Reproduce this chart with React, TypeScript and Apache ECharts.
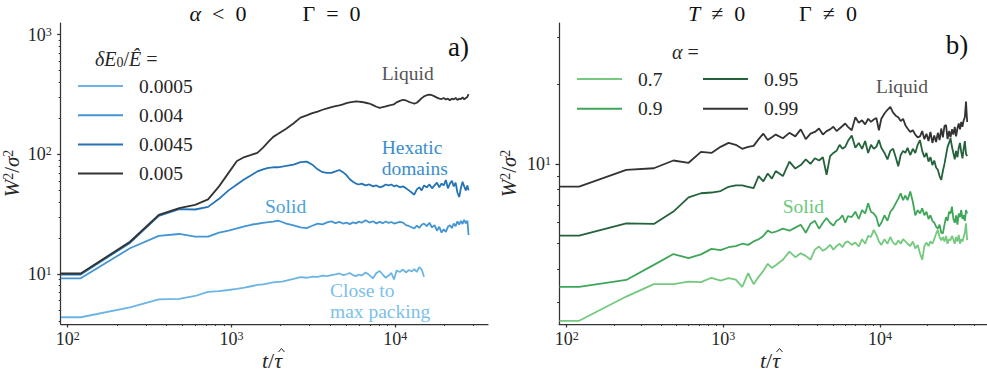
import React, { useEffect, useRef } from 'react';
import * as echarts from 'echarts';

const FONT = 'Liberation Serif';
const INK = '#262626';

// ---------------- data ----------------
const T_LEFT = [91, 120, 240, 360, 480, 600, 720, 840, 960, 1080,
  1200, 1320, 1440, 1560, 1680, 1800, 1920, 2040, 2160,
  2400, 2640, 2880, 3120, 3360, 3600, 3840, 4080, 4320, 4560, 4800, 5040, 5280, 5520, 5760, 6000, 6240,
  6600, 6960, 7320, 7680, 8040, 8400, 8760, 9120, 9480, 9840, 10200,
  10680, 11160, 11640, 12120, 12600, 13080, 13560, 14040, 14520, 15000,
  15600, 16200, 16800, 17400, 18000, 18600, 19200, 19800, 20400, 21000, 21600, 22200, 22800, 23400, 24000, 24600, 25200, 25800, 26400, 27000, 27600,
  28080];

const T_RIGHT = [90, 120, 240, 360, 480, 600, 720, 840, 960, 1080,
  1200, 1320, 1440, 1560, 1680, 1800, 1920, 2040, 2160,
  2400, 2640, 2880, 3120, 3360, 3600, 3840, 4080, 4320, 4560, 4800, 5040, 5280, 5520, 5760, 6000, 6240,
  6600, 6960, 7320, 7680, 8040, 8400, 8760, 9120, 9480, 9840, 10200,
  10680, 11160, 11640, 12120, 12600, 13080, 13560, 14040, 14520, 15000,
  15600, 16200, 16800, 17400, 18000, 18600, 19200, 19800, 20400, 21000, 21600, 22200, 22800, 23400, 24000, 24600, 25200, 25800, 26400, 27000, 27600,
  28200, 28800, 29400, 30000, 30600, 31200, 31800, 32400, 33000, 33600, 34200, 34800, 35400, 36000];

// panel a) : dE0/E = 0.0005 (close to max packing)
const W_A_0005 = [4.35, 4.35, 5.26, 6.14, 6.2, 6.55, 7.1, 7.2, 7.35, 7.5,
  7.7, 7.9, 8.1, 8.2, 8.35, 8.5, 8.6, 8.65, 8.8,
  9.1, 9.4, 9.3, 9.5, 9.45, 9.7, 9.6, 9.8, 9.95, 10.1, 9.8, 9.95, 10.2, 9.8, 9.6, 9.9, 9.7,
  10.3, 9.8, 9.2, 10.2, 10.6, 9.9, 9.3, 9.7, 10.2, 9.0, 10.7,
  10.4, 10.9, 10.3, 10.8, 10.5, 11.0, 10.4, 11.4, 10.9, 9.5];
// 0.004 (solid)
const W_A_004 = [9.2, 9.2, 16.4, 20.8, 21.6, 20.5, 20.5, 22.2, 23, 24.1,
  25, 25.8, 26.3, 26.8, 27.1, 27.4, 27.9, 27.2, 26.4,
  25.5, 24.5, 24.2, 25.3, 26.4, 26.0, 27.0, 27.5, 26.6, 27.3, 26.4, 26.9, 26.1, 27.0, 26.5, 27.4, 26.8,
  28.2, 26.9, 27.6, 26.5, 27.3, 26.6, 27.5, 26.7, 27.2, 26.4, 26.8,
  27.3, 26.9, 25.6, 25.2, 24.6, 24.0, 25.4, 24.3, 25.8, 26.4,
  25.1, 26.8, 24.5, 25.6, 23.0, 24.8, 22.2, 23.6, 22.5, 24.8, 25.6, 24.2, 26.4, 25.1, 27.5, 25.9, 27.8, 26.2, 28.3, 26.5, 27.9,
  21.2];
// 0.0045 (hexatic domains)
const W_A_0045 = [9.9, 9.9, 18.2, 30.6, 34.8, 34.6, 36.4, 42.5, 50, 56,
  62, 67, 72, 75, 77, 78, 78, 79, 80,
  82, 86, 87, 82, 75, 71, 70, 70, 72, 74, 71, 67, 62, 59, 57, 56, 57,
  55, 56, 54, 55, 53, 54, 56, 55, 56, 54, 55,
  53, 54, 52, 50, 48, 46, 51, 53, 50, 55,
  53, 56, 52, 55, 58, 53, 57, 55, 61, 52, 57, 60, 54, 58, 48, 44, 52, 59, 54, 50, 55,
  50];
// 0.005 (liquid)
const W_A_005 = [10.1, 10.1, 18.6, 31.2, 35.5, 37.8, 42, 54, 70, 88,
  95, 99, 103, 114, 127, 140, 148, 156, 164,
  182, 203, 212, 221, 228, 236, 242, 248, 253, 257, 262, 268, 272, 275, 277, 276, 274,
  270, 266, 258, 250, 245, 248, 252, 256, 259, 262, 272,
  280, 286, 282, 275, 270, 266, 270, 282, 295, 305,
  312, 316, 312, 305, 298, 292, 290, 296, 288, 292, 283, 292, 288, 296, 285, 292, 290, 300, 288, 296, 302,
  318];

// panel b) : alpha = 0.7
const W_B_07 = [2.56, 2.56, 3.16, 3.52, 3.52, 3.6, 3.58, 3.72, 3.63, 3.71,
  3.66, 3.44, 3.87, 3.52, 3.75, 3.95, 4.2, 4.05, 4.15,
  4.35, 4.67, 4.45, 4.6, 4.5, 4.35, 4.75, 4.88, 4.7, 4.8, 4.95, 4.75, 4.9, 5.0, 4.85, 5.05, 5.1,
  4.95, 5.05, 4.88, 5.2, 5.0, 5.35, 5.3, 5.64, 5.4, 5.1, 4.95,
  5.2, 5.0, 5.3, 5.05, 4.95, 5.15, 5.0, 5.2, 5.1, 5.0,
  4.9, 5.1, 4.8, 4.95, 4.6, 4.35, 4.9, 5.05, 4.9, 5.1, 5.0, 5.2, 5.45, 5.64, 5.3, 5.15, 5.3, 5.1, 5.35, 5.0, 5.2,
  5.15, 5.35, 5.2, 5.0, 5.3, 5.1, 5.4, 5.0, 5.2, 5.1, 5.3, 5.5, 5.97, 5.16];
// alpha = 0.9
const W_B_09 = [3.44, 3.44, 3.65, 4.16, 4.57, 4.41, 4.56, 4.78, 4.73, 4.85,
  4.9, 5.0, 4.95, 5.1, 5.2, 5.35, 5.6, 5.5, 5.55,
  5.7, 5.6, 5.75, 5.9, 5.5, 5.95, 6.1, 5.7, 6.0, 6.25, 6.0, 5.85, 6.1, 6.2, 6.4, 6.0, 6.35,
  6.3, 6.6, 6.2, 6.7, 6.5, 7.1, 6.6, 6.5, 6.3, 5.8, 6.0,
  6.4, 6.1, 6.6, 6.8, 7.1, 7.4, 7.75, 7.3, 7.6, 7.3,
  7.87, 7.2, 6.4, 6.7, 6.5, 6.8, 6.4, 6.6, 6.2, 6.4, 6.1, 6.0, 5.8, 5.7, 5.9, 5.5, 5.47, 5.9, 6.3, 6.1, 6.6,
  6.5, 6.9, 6.2, 6.0, 6.4, 5.9, 6.5, 6.3, 6.7, 6.2, 6.4, 6.1, 6.7, 6.5];
// alpha = 0.95
const W_B_095 = [5.36, 5.36, 5.97, 5.94, 6.61, 7.48, 7.75, 7.8, 7.9, 8.2,
  8.3, 8.3, 8.2, 8.1, 9.0, 8.6, 9.2, 8.8, 9.4,
  9.0, 10.2, 9.6, 9.9, 10.4, 10.0, 10.5, 10.3, 10.6, 9.1, 10.7, 11.0, 11.2, 11.8, 11.4, 11.6, 12.2,
  12.8, 11.5, 12.0, 11.4, 12.2, 11.0, 11.8, 11.4, 11.6, 12.3, 11.5,
  11.0, 10.4, 11.2, 11.4, 10.6, 9.8, 10.8, 11.2, 11.0, 11.5,
  10.8, 11.4, 11.0, 11.8, 12.3, 11.2, 10.6, 11.0, 10.2, 10.6, 9.9, 10.3, 9.7, 9.5, 9.0, 8.7, 9.4, 10.0, 10.8, 11.6, 12.0,
  12.5, 11.6, 11.0, 10.4, 11.2, 10.6, 11.5, 12.0, 11.1, 10.5, 11.4, 12.2, 10.9, 10.7];
// alpha = 0.99
const W_B_099 = [8.21, 8.21, 9.49, 9.63, 10.3, 10.1, 11.1, 11.0, 11.6, 12.0,
  11.8, 11.4, 11.6, 11.7, 12.4, 13.0, 12.3, 12.6, 12.9,
  12.5, 13.1, 12.7, 13.5, 12.4, 13.0, 13.2, 13.6, 12.9, 13.3, 13.5, 13.8, 13.3, 13.6, 13.9, 14.2, 13.8,
  13.4, 15.0, 14.3, 14.6, 14.1, 14.8, 14.4, 14.7, 14.9, 13.4, 14.8,
  15.5, 16.0, 16.4, 15.6, 15.2, 15.0, 14.5, 14.8, 14.0, 13.6,
  13.2, 13.4, 12.9, 12.6, 12.7, 13.3, 12.4, 13.0, 12.2, 13.2, 12.0, 12.8, 12.1, 13.1, 12.3, 13.6, 12.6, 13.9, 14.0, 12.4, 13.3,
  12.6, 13.5, 12.9, 13.8, 12.7, 13.6, 14.2, 13.5, 14.4, 13.8, 14.6, 15.0, 17.2, 14.4];

const LEFT_NAMES = ['0.0005', '0.004', '0.0045', '0.005'];
const LEFT_VALUES = [W_A_0005, W_A_004, W_A_0045, W_A_005];
const LEFT_COLORS = ['#6cb4e4', '#4495d3', '#2473b6', '#333333'];

const RIGHT_NAMES = ['0.7', '0.9', '0.95', '0.99'];
const RIGHT_VALUES = [W_B_07, W_B_09, W_B_095, W_B_099];
const RIGHT_COLORS = ['#74c97f', '#3fa659', '#23623a', '#333333'];

const X_MAJOR = [100, 1000, 10000];
const X_MINOR_LEFT = [200, 300, 400, 500, 600, 700, 800, 900, 2000, 3000, 4000, 5000, 6000, 7000, 8000, 9000, 20000, 30000];
const X_MINOR_RIGHT = [200, 300, 400, 500, 600, 700, 800, 900, 2000, 3000, 4000, 5000, 6000, 7000, 8000, 9000, 20000, 30000, 40000];
const Y_MAJOR_LEFT = [10, 100, 1000];
const Y_MINOR_LEFT = [4, 5, 6, 7, 8, 9, 20, 30, 40, 50, 60, 70, 80, 90, 200, 300, 400, 500, 600, 700, 800, 900];
const Y_MAJOR_RIGHT = [10];
const Y_MINOR_RIGHT = [3, 4, 5, 6, 7, 8, 9, 20, 30];

// ---------------- helpers ----------------
const tickRich = {
  b: { fontFamily: FONT, fontSize: 18, color: INK },
  s: { fontFamily: FONT, fontSize: 12, color: INK, verticalAlign: 'top' },
};
const pow10 = (v: number) => `{b|10}{s|${Math.round(Math.log10(v))}}`;

function majorAxis(grid: number, min: number, max: number, ticks: number[], position: string, margin: number) {
  return {
    type: 'log', logBase: 10, gridIndex: grid, min, max, position,
    axisLine: { show: true, onZero: false, lineStyle: { color: '#333333', width: 1.25 } },
    axisTick: { show: true, length: 3.5, customValues: ticks, lineStyle: { color: '#333333', width: 1.25 } },
    axisLabel: { show: true, customValues: ticks, formatter: pow10, rich: tickRich, margin, fontFamily: FONT, fontSize: 18, color: INK },
    splitLine: { show: false },
    minorTick: { show: false },
  };
}
function minorAxis(grid: number, min: number, max: number, ticks: number[], position: string) {
  return {
    type: 'log', logBase: 10, gridIndex: grid, min, max, position,
    axisLine: { show: false, onZero: false },
    axisTick: { show: true, length: 2, customValues: ticks, lineStyle: { color: '#333333', width: 1 } },
    axisLabel: { show: false },
    splitLine: { show: false },
  };
}

function mkSeries(name: string, color: string, t: number[], w: number[], axisIndex: number) {
  return {
    type: 'line', name, xAxisIndex: axisIndex, yAxisIndex: axisIndex,
    data: w.map((v, i) => [t[i], v]),
    showSymbol: false, symbol: 'none', silent: true,
    lineStyle: { color, width: 1.8 }, itemStyle: { color },
    emphasis: { disabled: true },
  };
}

function mathRich(fs: number, fill: string) {
  return {
    i: { fontFamily: FONT, fontStyle: 'italic', fontSize: fs, fill },
    n: { fontFamily: FONT, fontSize: fs, fill },
    sup: { fontFamily: FONT, fontSize: Math.round(fs * 0.68), fill, verticalAlign: 'top' },
    sub: { fontFamily: FONT, fontSize: Math.round(fs * 0.68), fill, verticalAlign: 'bottom' },
  };
}

function txt(x: number, y: number, text: string, opts: any = {}) {
  const fs = opts.fs ?? 19;
  const fill = opts.fill ?? INK;
  const align = opts.align ?? 'left';
  return {
    type: 'text', x, y, rotation: opts.rotation ?? 0, z: 100, silent: true,
    style: {
      text, rich: mathRich(fs, fill), fontFamily: FONT, fontSize: fs, fill,
      align, verticalAlign: 'middle',
    },
  };
}

// small circumflex accent drawn above tau in the x-axis titles
function hat(cx: number, cy: number) {
  return {
    type: 'polyline', z: 100, silent: true,
    shape: { points: [[cx - 3, cy + 2], [cx, cy - 1.5], [cx + 3, cy + 2]] },
    style: { stroke: INK, lineWidth: 1, fill: null },
  };
}

const legendBase = {
  orient: 'vertical', selectedMode: false, icon: 'rect', itemWidth: 45, itemHeight: 2,
  padding: 0,
  textStyle: { fontFamily: FONT, fontSize: 19.5, color: INK, padding: [0, 0, 0, 11] },
};

export default function App() {
  const ref = useRef<HTMLDivElement>(null);
  useEffect(() => {
    if (!ref.current) return;
    const chart = echarts.init(ref.current, undefined, { renderer: 'svg' });
    let alive = true;
    const L = { xmin: 90.6, xmax: 36900, ymin: 3.82, ymax: 1253 };
    const R = { xmin: 89.3, xmax: 48200, ymin: 2.49, ymax: 34 };
    const option: any = {
      animation: false,
      textStyle: { fontFamily: FONT },
      grid: [
        { left: 60.7, top: 23, width: 427.3, height: 301 },
        { left: 559, top: 23, width: 428, height: 301 },
      ],
      xAxis: [
        majorAxis(0, L.xmin, L.xmax, X_MAJOR, 'bottom', 6),
        minorAxis(0, L.xmin, L.xmax, X_MINOR_LEFT, 'bottom'),
        majorAxis(1, R.xmin, R.xmax, X_MAJOR, 'bottom', 6),
        minorAxis(1, R.xmin, R.xmax, X_MINOR_RIGHT, 'bottom'),
      ],
      yAxis: [
        majorAxis(0, L.ymin, L.ymax, Y_MAJOR_LEFT, 'left', 9),
        minorAxis(0, L.ymin, L.ymax, Y_MINOR_LEFT, 'left'),
        majorAxis(1, R.ymin, R.ymax, Y_MAJOR_RIGHT, 'left', 8),
        minorAxis(1, R.ymin, R.ymax, Y_MINOR_RIGHT, 'left'),
      ],
      legend: [
        { ...legendBase, left: 78, top: 76, itemGap: 9.2, data: LEFT_NAMES },
        { ...legendBase, left: 577, top: 69, itemGap: 9.7, data: [RIGHT_NAMES[0], RIGHT_NAMES[1]] },
        { ...legendBase, left: 703, top: 69, itemGap: 9.7, data: [RIGHT_NAMES[2], RIGHT_NAMES[3]] },
      ],
      series: [
        ...LEFT_NAMES.map((n, k) => mkSeries(n, LEFT_COLORS[k], T_LEFT, LEFT_VALUES[k], 0)),
        ...RIGHT_NAMES.map((n, k) => mkSeries(n, RIGHT_COLORS[k], T_RIGHT, RIGHT_VALUES[k], 2)),
      ],
      graphic: [
        // panel titles
        txt(218, 13, '{i|α}{n|  <  0}', { fs: 22, align: 'center', fill: '#111' }),
        txt(331.5, 13, '{n|Γ  =  0}', { fs: 22, align: 'center', fill: '#111' }),
        txt(716.7, 13, '{i|T}{n|  ≠  0}', { fs: 22, align: 'center', fill: '#111' }),
        txt(828, 13, '{n|Γ  ≠  0}', { fs: 22, align: 'center', fill: '#111' }),
        // panel letters
        txt(458.5, 47, '{n|a)}', { fs: 27, align: 'center', fill: '#111' }),
        txt(957, 45, '{n|b)}', { fs: 27, align: 'center', fill: '#111' }),
        // legend titles
        txt(95, 59, '{i|δE}{sub|0}{n|/}{i|Ê}{n| =}', { fs: 20 }),
        txt(672, 52, '{i|α}{n| =}', { fs: 20 }),
        // axis names
        txt(262, 360, '{i|t}{n|/}{i|τ}', { fs: 22 }),
        hat(281.5, 350),
        txt(760, 360, '{i|t}{n|/}{i|τ}', { fs: 22 }),
        hat(779.5, 350),
        txt(12, 173.5, '{i|W}{sup|2}{n|/}{i|σ}{sup|2}', { fs: 21, align: 'center', rotation: Math.PI / 2 }),
        txt(509, 173.5, '{i|W}{sup|2}{n|/}{i|σ}{sup|2}', { fs: 21, align: 'center', rotation: Math.PI / 2 }),
        // annotations, panel a
        txt(381.7, 73, '{n|Liquid}', { fs: 19.5, fill: '#555555' }),
        txt(381.7, 147, '{n|Hexatic}', { fs: 19.5, fill: '#3a8dcf' }),
        txt(381.7, 168, '{n|domains}', { fs: 19.5, fill: '#3a8dcf' }),
        txt(265, 206, '{n|Solid}', { fs: 19.5, fill: '#4d9fda' }),
        txt(330, 290, '{n|Close to}', { fs: 19.5, fill: '#7cc0ea' }),
        txt(330, 311, '{n|max packing}', { fs: 19.5, fill: '#7cc0ea' }),
        // annotations, panel b
        txt(876, 86, '{n|Liquid}', { fs: 19.5, fill: '#555555' }),
        txt(782.7, 206, '{n|Solid}', { fs: 19.5, fill: '#6cc97a' }),
      ],
    };
    chart.setOption(option);

    // a late, invisible page change, then a fresh redraw of the chart
    const marker = document.createElement('div');
    const timer = setTimeout(() => {
      if (!alive) return;
      marker.style.cssText = 'position:absolute;left:0;top:0;width:1px;height:1px;overflow:hidden;opacity:0;pointer-events:none';
      marker.setAttribute('aria-hidden', 'true');
      document.body.appendChild(marker);
      chart.clear();
      chart.setOption(option);
      chart.resize();
    }, 50);
    return () => {
      alive = false;
      clearTimeout(timer);
      if (marker.parentNode) marker.parentNode.removeChild(marker);
      chart.dispose();
    };
  }, []);
  return <div ref={ref} style={{ position: 'absolute', left: 0, top: 0, width: 987, height: 376 }} />;
}
